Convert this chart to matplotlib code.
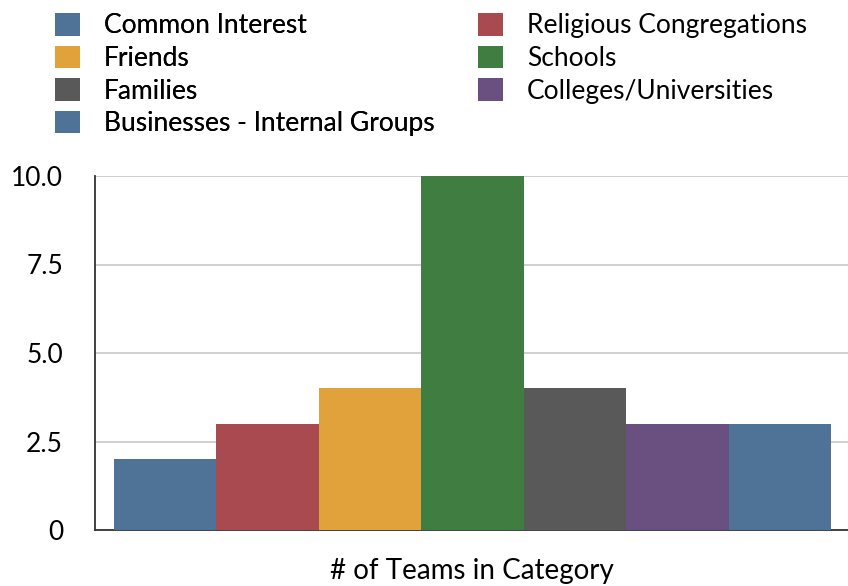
import matplotlib.pyplot as plt
import numpy as np
from matplotlib.patches import Patch

plt.rcParams['font.family'] = ['Lato', 'DejaVu Sans']

categories = ['Common Interest', 'Religious Congregations', 'Friends', 'Schools',
              'Families', 'Colleges/Universities', 'Businesses - Internal Groups']
teams = [2, 3, 4, 10, 4, 3, 3]
colors = ['#4e7397', '#a84a50', '#e1a23b', '#3f7e40', '#595959', '#6a5080', '#4e7397']

fig = plt.figure(figsize=(8.48, 5.86), dpi=100)
ax = fig.add_axes([95 / 848, 1 - 530 / 586, (848 - 95) / 848, (530 - 176) / 586])

x = np.arange(len(categories))
ax.bar(x, teams, width=1.0, color=colors, edgecolor='none', zorder=3)

ax.set_ylim(0, 10)
ax.set_xlim(-0.5 - 0.186, 6.5 + 0.165)
ax.set_yticks([0, 2.5, 5.0, 7.5, 10.0])
ax.set_yticklabels(['0', '2.5', '5.0', '7.5', '10.0'], fontsize=19)
ax.set_xticks([])
ax.tick_params(axis='y', length=0, pad=23)
ax.grid(axis='y', color='#c8c8c8', linewidth=1.2, zorder=0)
ax.spines['top'].set_visible(False)
ax.spines['right'].set_visible(False)
ax.spines['left'].set_color('#333333')
ax.spines['bottom'].set_color('#333333')
ax.spines['left'].set_linewidth(1.3)
ax.spines['bottom'].set_linewidth(1.3)
ax.set_xlabel('# of Teams in Category', fontsize=20, labelpad=20)

# legend: left column 4 entries, right column 3
leg_kw = dict(loc='upper left', frameon=False, fontsize=19, handlelength=0.95,
              handleheight=0.95, labelspacing=0.27, handletextpad=0.9,
              borderpad=0, borderaxespad=0)
left = [0, 2, 4, 6]
right = [1, 3, 5]
leg1 = fig.legend([Patch(facecolor=colors[i], edgecolor='none') for i in left],
                  [categories[i] for i in left],
                  bbox_to_anchor=(55 / 848, 1 - 13 / 586), **leg_kw)
fig.add_artist(leg1)
fig.legend([Patch(facecolor=colors[i], edgecolor='none') for i in right],
           [categories[i] for i in right],
           bbox_to_anchor=(478 / 848, 1 - 13 / 586), **leg_kw)

fig.savefig('out.png', dpi=100)
